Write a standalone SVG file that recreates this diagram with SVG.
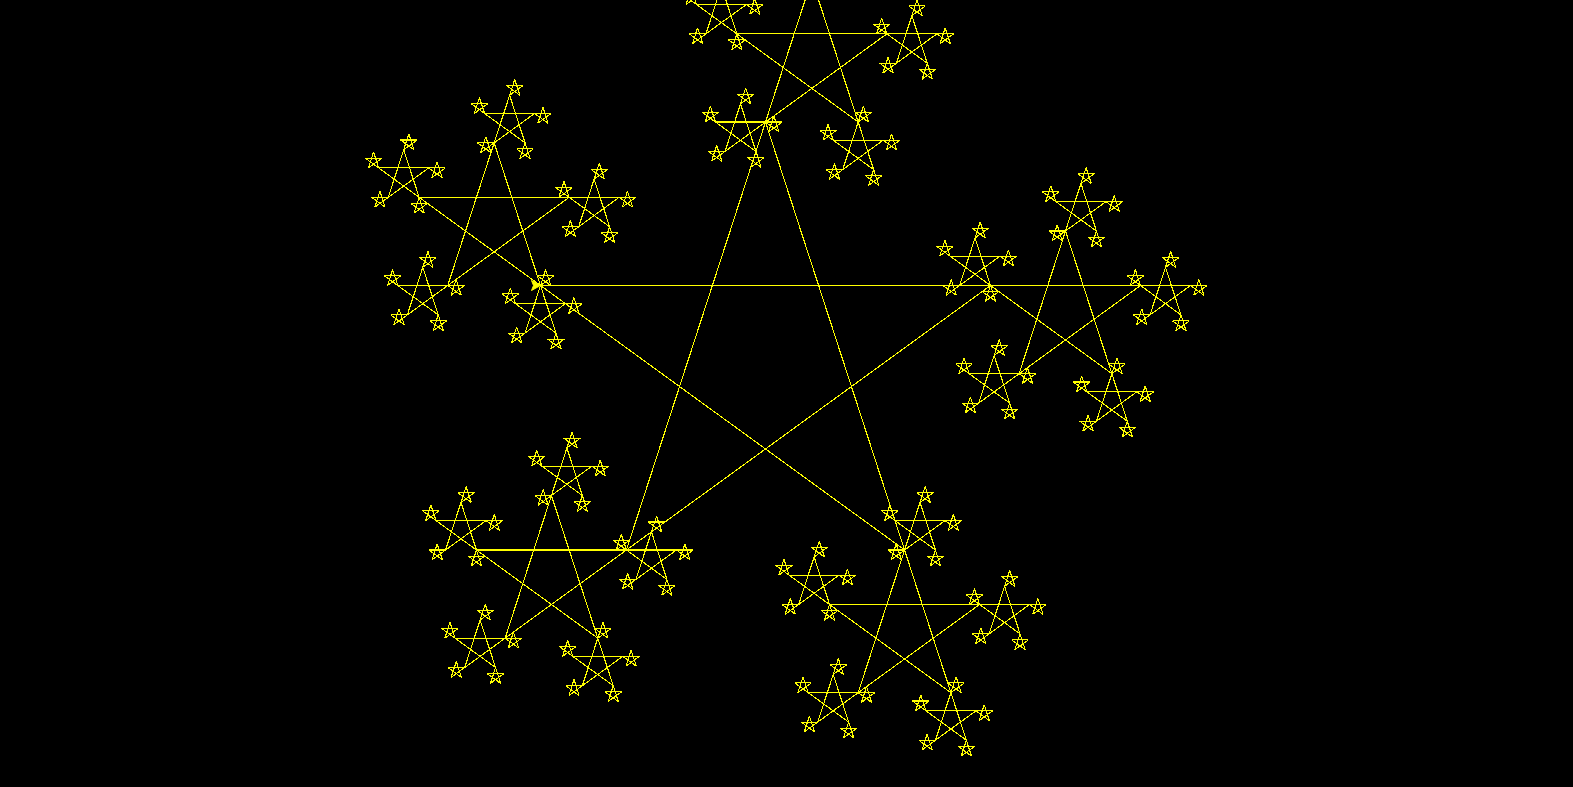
<svg xmlns="http://www.w3.org/2000/svg" width="1573" height="787" viewBox="0 0 1573 787">
<style>
.p{fill:none;stroke:#ffff00;stroke-width:1.1;stroke-linejoin:bevel;shape-rendering:crispEdges}
.turtle{fill:#ffff00;stroke:#ffff00;stroke-width:1}
</style>
<defs>
<g id="s4"><path class="p" d="M0 0L16.667 0L3.183 9.797L8.333 -6.055L13.484 9.797Z"/></g>
<g id="s3"><path class="p" d="M0 0L50 0L9.549 29.389L25 -18.164L40.451 29.389Z"/>
<use href="#s4" transform="translate(50,0)"/>
<use href="#s4" transform="translate(9.549,29.389) rotate(144)"/>
<use href="#s4" transform="translate(25,-18.164) rotate(288)"/>
<use href="#s4" transform="translate(40.451,29.389) rotate(72)"/>
<use href="#s4" transform="rotate(216)"/>
</g>
<g id="s2"><path class="p" d="M0 0L150 0L28.647 88.168L75 -54.491L121.353 88.168Z"/>
<use href="#s3" transform="translate(150,0)"/>
<use href="#s3" transform="translate(28.647,88.168) rotate(144)"/>
<use href="#s3" transform="translate(75,-54.491) rotate(288)"/>
<use href="#s3" transform="translate(121.353,88.168) rotate(72)"/>
<use href="#s3" transform="rotate(216)"/>
</g>
<g id="s1"><path class="p" d="M0 0L450 0L85.942 264.503L225 -163.472L364.058 264.503Z"/>
<use href="#s2" transform="translate(450,0)"/>
<use href="#s2" transform="translate(85.942,264.503) rotate(144)"/>
<use href="#s2" transform="translate(225,-163.472) rotate(288)"/>
<use href="#s2" transform="translate(364.058,264.503) rotate(72)"/>
<use href="#s2" transform="rotate(216)"/>
</g>
</defs>
<rect id="background" x="0" y="0" width="1573" height="787" fill="#000000"/>
<g id="fractal-star">
<use href="#s1" transform="translate(540.5,285.5)"/>
</g>
<g id="turtle-cursor">
<polygon class="turtle" points="540.5,285.5 531.5,280.5 533.5,285.5 531.5,290.5"/>
</g>
</svg>
